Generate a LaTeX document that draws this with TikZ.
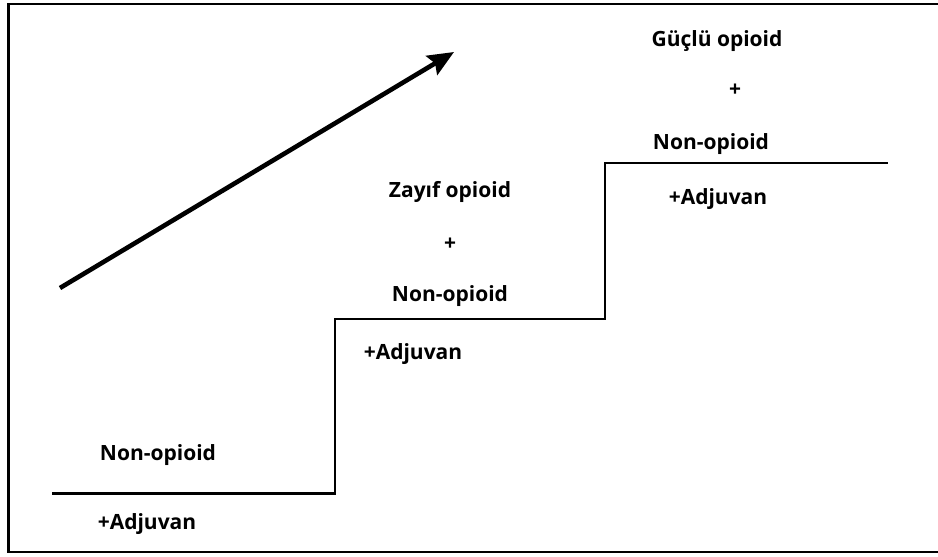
\documentclass[tikz,border=0pt]{standalone}
\usepackage{fontspec}
\setmainfont{Open Sans}
\usepackage{tikz}
\usetikzlibrary{arrows.meta}
\definecolor{ink}{HTML}{000000}
\tikzset{
  frame/.style={draw=ink, line width=2.2pt},
  stair/.style={draw=ink, line width=2.8pt, line join=miter},
  rise/.style={-{Stealth[length=26pt,width=22pt,inset=4pt]}, line width=4.6pt, draw=ink},
  lbl/.style={anchor=base, inner sep=0pt, font=\fontsize{21}{24}\selectfont\bfseries, text=ink},
}

\begin{document}
\begin{tikzpicture}[x=1pt,y=-1pt]
  \useasboundingbox (0,0) rectangle (938,557);
  % outer frame, right side runs off the page
  \draw[frame] (938,4) -- (8.5,4) -- (8.5,552) -- (938,552);

  % the three steps
  \draw[stair] (52,493.5) -- (335,493.5) -- (335,319) -- (605,319) -- (605,163) -- (888,163);

  % rising arrow
  \coordinate (lo) at (60,288);
  \coordinate (hi) at (454,52);
  \draw[rise] (lo) -- (hi);

  % step 1
  \node[lbl] (s1top) at (158,460.5) {Non-opioid};
  \node[lbl] (s1adj) at (147,529) {+Adjuvan};

  % step 2
  \node[lbl] (s2drug) at (450,197) {Zayıf opioid};
  \node[lbl] (s2plus) at (450,250) {+};
  \node[lbl] (s2non)  at (450,301) {Non-opioid};
  \node[lbl] (s2adj)  at (413,359) {+Adjuvan};

  % step 3
  \node[lbl] (s3drug) at (717,46) {Güçlü opioid};
  \node[lbl] (s3plus) at (735,96) {+};
  \node[lbl] (s3non)  at (711,149) {Non-opioid};
  \node[lbl] (s3adj)  at (718,204) {+Adjuvan};
\end{tikzpicture}
\end{document}
